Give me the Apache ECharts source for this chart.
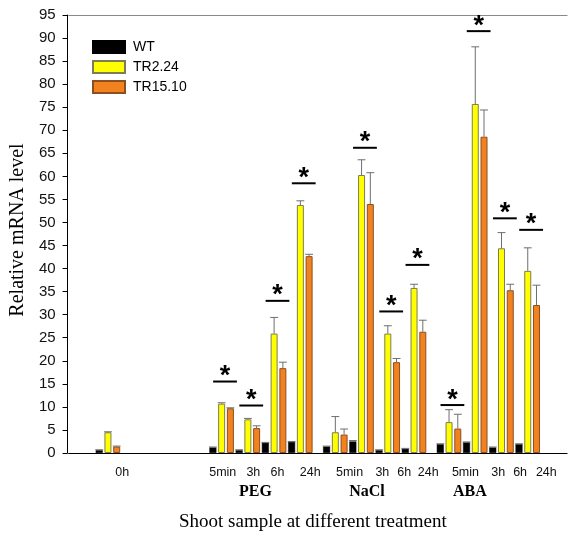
<!DOCTYPE html>
<html>
<head>
<meta charset="utf-8">
<script src="https://cdn.jsdelivr.net/npm/echarts@6/dist/echarts.min.js"></script>
<style>html,body{margin:0;padding:0;background:#fff}#c{width:569px;height:541px}</style>
</head>
<body>
<div id="c"></div>
<script>
// ---------- DATA ----------
const baselineLabel = '0h';
const timePoints = ['5min', '3h', '6h', '24h'];
const treatments = ['PEG', 'NaCl', 'ABA'];
const seriesNames = ['WT', 'TR2.24', 'TR15.10'];
// order: 0h, PEG x4, NaCl x4, ABA x4
const wtMean     = [0.6, 1.2, 0.6, 2.2, 2.4, 1.4, 2.5, 0.6, 0.9, 1.9, 2.3, 1.2, 1.9];
const wtErr      = [0.1, 0.1, 0.1, 0.1, 0.1, 0.1, 0.2, 0.1, 0.1, 0.1, 0.1, 0.1, 0.1];
const tr224Mean  = [4.5, 10.7, 7.3, 25.9, 53.8, 4.5, 60.3, 25.9, 35.8, 6.7, 75.7, 44.4, 39.5];
const tr224Err   = [0.1, 0.2, 0.2, 3.5, 0.9, 3.4, 3.3, 1.7, 0.8, 2.7, 12.4, 3.4, 5.0];
const tr1510Mean = [1.4, 9.7, 5.4, 18.4, 42.7, 4.0, 54.0, 19.7, 26.3, 5.3, 68.6, 35.3, 32.1];
const tr1510Err  = [0.1, 0.1, 0.5, 1.3, 0.4, 1.2, 6.8, 0.8, 2.5, 3.1, 5.8, 1.3, 4.3];
const significant = [false, true, true, true, true, false, true, true, true, true, true, true, true];
const sigLevel    = [null, 15.5, 10.3, 33.0, 58.5, null, 66.2, 30.7, 40.8, 10.4, 91.5, 50.9, 48.4];
const yTicks = { min: 0, max: 95, interval: 5 };

// ---------- LAYOUT ----------
const LEAD_SLOTS = 3, BASE_GAP = 10, TREAT_GAP = 1, TAIL_SLOTS = 3;
const SUB = 4; // label sub-resolution per slot
const timeLabelSlot  = [6.04, 17.72, 21.22, 23.93, 27.54, 32.17, 35.78, 38.37, 41.08, 45.49, 49.10, 51.58, 54.51];
const treatLabelSlot = [21.44, 34.09, 45.94];

const groupStart = [];
let s = LEAD_SLOTS;
groupStart.push(s); s += 3 + BASE_GAP;
treatments.forEach((t, ti) => {
  timePoints.forEach(() => { groupStart.push(s); s += 3; });
  if (ti < treatments.length - 1) s += TREAT_GAP;
});
const nSlots = s + TAIL_SLOTS;
const slotCats = Array.from({length: nSlots}, (_, i) => String(i));

const means = [wtMean, tr224Mean, tr1510Mean];
const errs = [wtErr, tr224Err, tr1510Err];
function slotData(k) {
  const d = new Array(nSlots).fill('-');
  groupStart.forEach((g, i) => { d[g + k] = means[k][i]; });
  return d;
}
const errData = [];
groupStart.forEach((g, i) => {
  for (let k = 0; k < 3; k++) errData.push([g + k, means[k][i], means[k][i] + errs[k][i]]);
});
const sigData = [];
groupStart.forEach((g, i) => { if (significant[i]) sigData.push([g + 1, sigLevel[i]]); });

const allTimeLabels = [baselineLabel];
treatments.forEach(() => timePoints.forEach(t => allTimeLabels.push(t)));
const fineTime = new Array(nSlots * SUB).fill('');
allTimeLabels.forEach((l, i) => { fineTime[Math.round(timeLabelSlot[i] * SUB - 0.5)] = l; });
const fineTreat = new Array(nSlots * SUB).fill('');
treatments.forEach((l, i) => { fineTreat[Math.round(treatLabelSlot[i] * SUB - 0.5)] = l; });

const styles = [
  { color: '#000000', borderColor: '#000000', borderWidth: 0.5 },
  { color: '#FFFF00', borderColor: '#7d7d55', borderWidth: 1 },
  { color: '#F28120', borderColor: '#8c4f20', borderWidth: 1 }
];

const chart = echarts.init(document.getElementById('c'), null, { renderer: 'canvas' });
const hiddenAxis = {
  type: 'category', gridIndex: 0, position: 'bottom', boundaryGap: true,
  axisLine: { show: false }, axisTick: { show: false }, splitLine: { show: false }
};
chart.setOption({
  animation: false,
  backgroundColor: '#ffffff',
  grid: { left: 68, top: 15, width: 505, height: 438 },
  legend: {
    data: seriesNames, orient: 'vertical', left: 87, top: 35,
    itemWidth: 32, itemHeight: 12, itemGap: 6, icon: 'rect',
    textStyle: { fontFamily: 'Liberation Sans', fontSize: 14, color: '#000', padding: [0, 0, 0, 3] }
  },
  xAxis: [
    {
      type: 'category', data: slotCats, boundaryGap: true, position: 'bottom',
      axisLine: { lineStyle: { color: '#000', width: 1 } },
      axisTick: { show: false }, axisLabel: { show: false }, splitLine: { show: false },
      name: 'Shoot sample at different treatment', nameLocation: 'middle', nameGap: 60,
      nameTextStyle: { fontFamily: 'Liberation Serif', fontSize: 19, color: '#000', padding: [0, 10, 0, 0] }
    },
    Object.assign({}, hiddenAxis, {
      data: fineTime,
      axisLabel: { interval: 0, margin: 13, fontFamily: 'Liberation Sans', fontSize: 12.5, color: '#111' }
    }),
    Object.assign({}, hiddenAxis, {
      data: fineTreat,
      axisLabel: { interval: 0, margin: 31, fontFamily: 'Liberation Serif', fontWeight: 'bold', fontSize: 16, color: '#000' }
    }),
    {
      type: 'category', data: slotCats, position: 'top',
      axisLine: { show: true, lineStyle: { color: '#8a8a8a', width: 1 } },
      axisTick: { show: false }, axisLabel: { show: false }
    }
  ],
  yAxis: {
    type: 'value', min: yTicks.min, max: yTicks.max, interval: yTicks.interval, offset: 1,
    axisLine: { show: true, lineStyle: { color: '#000' } },
    axisTick: { show: true, inside: false, length: 5, lineStyle: { color: '#000' } },
    axisLabel: { margin: 12, fontFamily: 'Liberation Sans', fontSize: 15, color: '#111' },
    splitLine: { show: false },
    name: 'Relative mRNA level', nameLocation: 'middle', nameGap: 38,
    nameTextStyle: { fontFamily: 'Liberation Serif', fontSize: 20, color: '#000', padding: [0, 0, 0, 8] }
  },
  series: [
    ...seriesNames.map((n, k) => ({
      name: n, type: 'bar', stack: 'all', xAxisIndex: 0, yAxisIndex: 0,
      data: slotData(k), barWidth: 7, itemStyle: styles[k]
    })),
    {
      type: 'custom', name: 'err', xAxisIndex: 0, yAxisIndex: 0, data: errData,
      encode: { x: 0, y: [1, 2] }, z: 3,
      renderItem: function (params, api) {
        const x = api.value(0);
        const p0 = api.coord([x, api.value(1)]);
        const p1 = api.coord([x, api.value(2)]);
        const half = api.size([1, 0])[0] * 0.45;
        const st = { stroke: '#6e6e6e', lineWidth: 1 };
        return { type: 'group', children: [
          { type: 'line', shape: { x1: p0[0], y1: p0[1], x2: p1[0], y2: p1[1] }, style: st },
          { type: 'line', shape: { x1: p1[0] - half, y1: p1[1], x2: p1[0] + half, y2: p1[1] }, style: st }
        ]};
      }
    },
    {
      type: 'custom', name: 'sig', xAxisIndex: 0, yAxisIndex: 0, data: sigData,
      encode: { x: 0, y: 1 }, z: 4,
      renderItem: function (params, api) {
        const p = api.coord([api.value(0), api.value(1)]);
        const w = api.size([1, 0])[0];
        const cx = p[0] + w / 2 - 1;
        return { type: 'group', children: [
          { type: 'line', shape: { x1: cx - 1.36 * w, y1: p[1], x2: cx + 1.36 * w, y2: p[1] },
            style: { stroke: '#000', lineWidth: 2 } },
          { type: 'text', x: cx, y: p[1] - 5,
            style: { text: '*', fill: '#000', fontSize: 27, fontWeight: 'bold', fontFamily: 'Liberation Sans',
                     align: 'center', verticalAlign: 'middle' } }
        ]};
      }
    }
  ]
});
</script>
</body>
</html>
